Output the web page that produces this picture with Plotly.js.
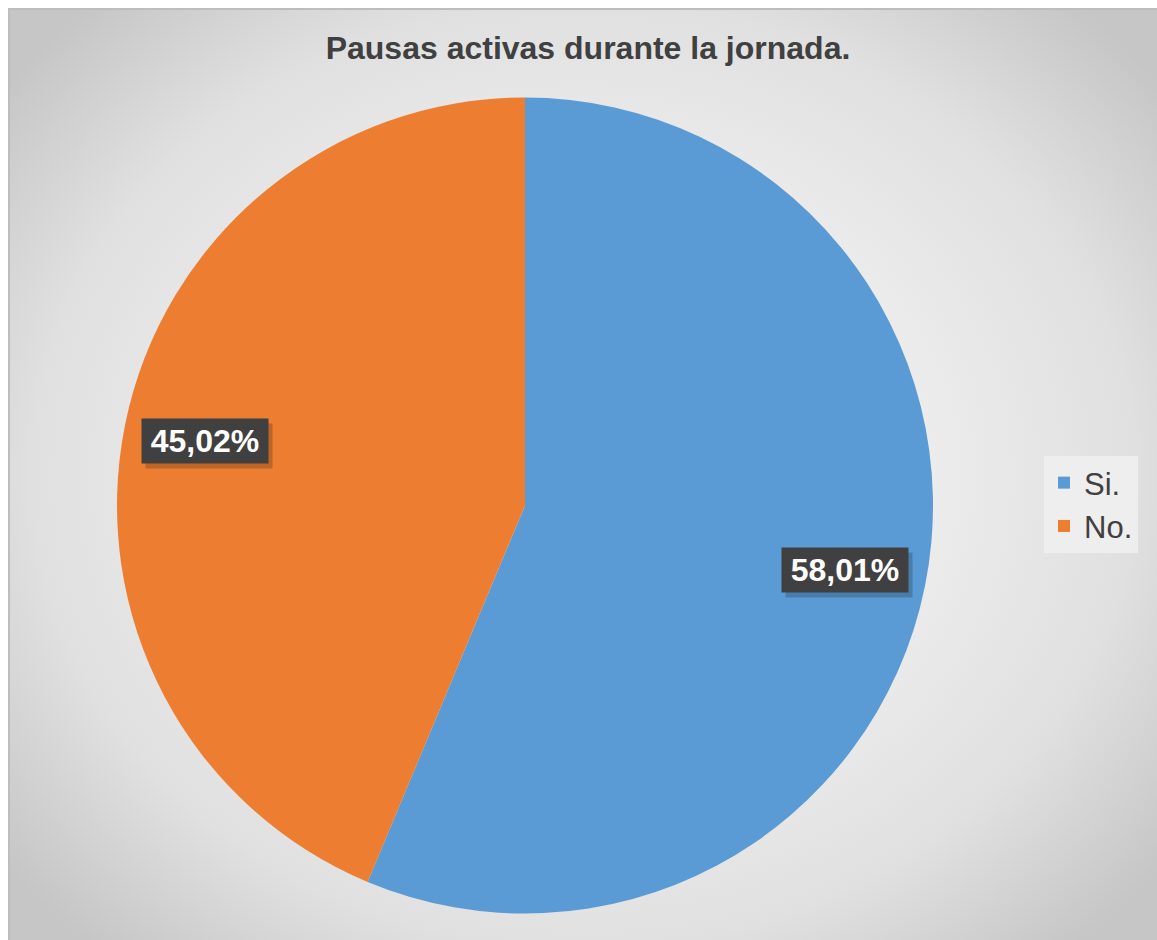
<!DOCTYPE html>
<html>
<head>
<meta charset="utf-8">
<script src="https://cdn.plot.ly/plotly-3.0.1.min.js"></script>
<style>
  html, body { margin: 0; padding: 0; background: #ffffff; }
  #wrap { position: relative; width: 1157px; height: 940px; overflow: hidden; }
  #bg { position: absolute; left: 8px; top: 8px; width: 1149px; height: 932px;
        box-sizing: border-box; border-left: 2px solid #bdbdbd; border-top: 2px solid #bdbdbd;
        background: radial-gradient(ellipse 64% 68% at 50% 50%, #f5f5f5 0%, #efefef 40%, #e0e0e0 75%, #c6c6c6 100%); }
  #chart { position: absolute; left: 0; top: 0; width: 1157px; height: 940px; }
</style>
</head>
<body>
<div id="wrap">
  <div id="bg"></div>
  <div id="chart"></div>
</div>
<script>
// Data
const categories = ["Si.", "No."];
const values = [58.01, 45.02];
const valueLabels = ["58,01%", "45,02%"];
const colors = ["#5B9BD5", "#ED7D31"];
const chartTitle = "Pausas activas durante la jornada.";

const W = 1157, H = 940;
const domX = [117 / W, 933 / W];
const domY = [1 - 913.5 / H, 1 - 97.5 / H];

// label positions computed from slice midpoints (clockwise from 12 o'clock)
const total = values.reduce((a, b) => a + b, 0);
const cx = (domX[0] + domX[1]) / 2 * W;
const cy = (1 - (domY[0] + domY[1]) / 2) * H;
const R = Math.min((domX[1] - domX[0]) * W, (domY[1] - domY[0]) * H) / 2;
const annotations = [];
let cum = 0;
values.forEach((v, i) => {
  const mid = (cum + v / 2) / total * 2 * Math.PI;
  cum += v;
  const px = cx + 0.8 * R * Math.sin(mid);
  const py = cy - 0.8 * R * Math.cos(mid);
  const base = {
    x: px / W, y: 1 - py / H, xref: "paper", yref: "paper",
    showarrow: false, width: 120, height: 38,
    font: { family: "Liberation Sans, Arial, sans-serif", size: 32 },
    borderpad: 3, xanchor: "center", yanchor: "middle"
  };
  annotations.push(Object.assign({}, base, {
    text: "&nbsp;",
    font: Object.assign({}, base.font, { color: "rgba(0,0,0,0)" }),
    bgcolor: "rgba(0,0,0,0.2)", xshift: 4, yshift: -5
  }));
  annotations.push(Object.assign({}, base, {
    text: "<b>" + valueLabels[i] + "</b>",
    font: Object.assign({}, base.font, { color: "#ffffff" }),
    bgcolor: "#404040"
  }));
});

const trace = {
  type: "pie",
  labels: categories,
  values: values,
  sort: false,
  direction: "clockwise",
  rotation: 0,
  textinfo: "none",
  hoverinfo: "label+value",
  marker: { colors: colors, line: { width: 0 } },
  domain: { x: domX, y: domY }
};

const layout = {
  width: W, height: H,
  margin: { l: 0, r: 0, t: 0, b: 0 },
  paper_bgcolor: "rgba(0,0,0,0)",
  plot_bgcolor: "rgba(0,0,0,0)",
  title: {
    text: "<b>" + chartTitle + "</b>",
    x: 588 / W, xanchor: "center",
    y: 1 - 48 / H, yanchor: "middle",
    font: { family: "Liberation Sans, Arial, sans-serif", size: 32, color: "#404040" }
  },
  showlegend: true,
  legend: {
    x: 1044 / W, xanchor: "left",
    y: 1 - 456 / H, yanchor: "top",
    bgcolor: "rgba(240,240,240,0.85)",
    font: { family: "Liberation Sans, Arial, sans-serif", size: 31, color: "#404040" },
    itemclick: false, itemdoubleclick: false
  },
  annotations: annotations
};

Plotly.newPlot("chart", [trace], layout, { displayModeBar: false, staticPlot: true });
</script>
</body>
</html>
